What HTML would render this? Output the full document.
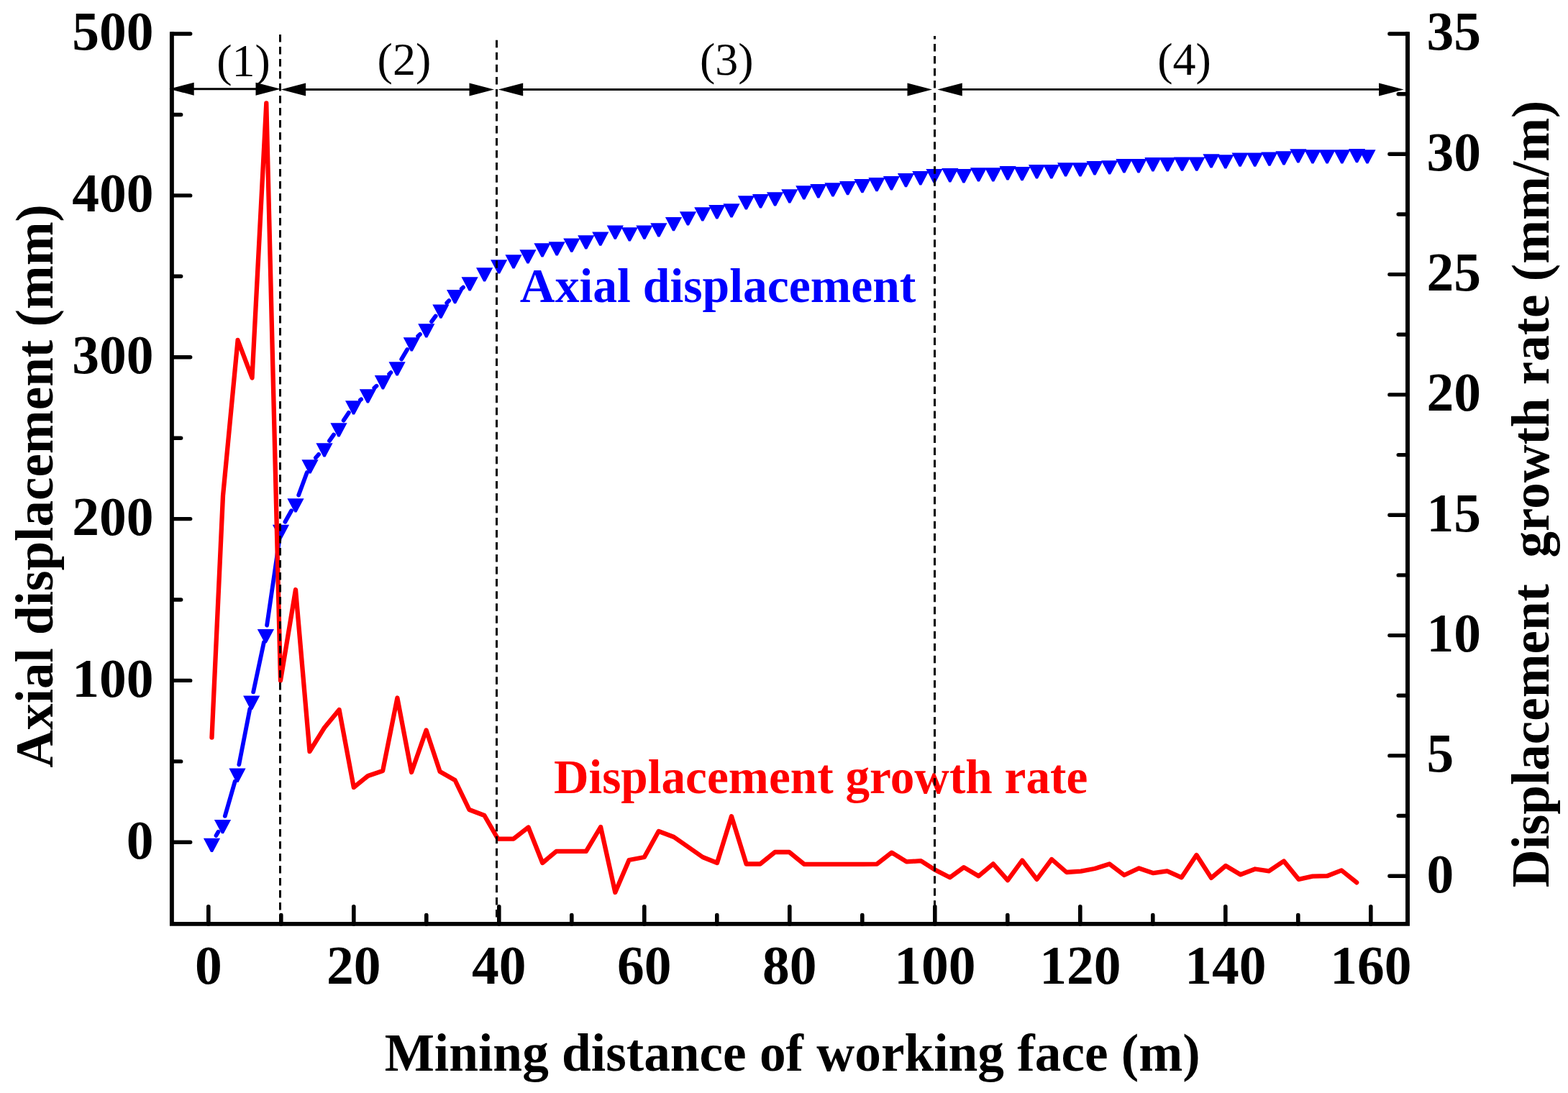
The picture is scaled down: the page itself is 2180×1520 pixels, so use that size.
<!DOCTYPE html>
<html><head><meta charset="utf-8"><title>Axial displacement chart</title>
<style>html,body{margin:0;padding:0;background:#fff;overflow:hidden;}svg{display:block;}</style>
</head><body>
<svg width="2180" height="1520" viewBox="0 0 2180 1520">
<rect x="0" y="0" width="2180" height="1520" fill="#fff"/>
<path d="M300.5,1161.9L303.5,1156.8M312.8,1134.9L326.7,1086.6M332.3,1063.3L347.4,985.9M352.2,962.4L366.9,893.2M371.1,869.6L388.8,748.1M396.4,725.7L405.1,710.3M415.2,688.5L426.8,657.1M438.9,636.7L443.1,631.9M458.0,613.0L464.0,604.5M477.7,584.7L484.9,573.8M500.9,556.2L502.1,555.3M520.3,539.6L523.5,536.7M541.1,520.3L543.4,518.1M558.2,499.5L566.2,486.0M581.1,467.6L584.0,464.9M600.0,447.2L605.7,439.6M621.2,421.3L624.3,418.1M641.7,401.6L644.0,399.6" stroke="#0000ff" stroke-width="5.8" stroke-linecap="round" fill="none"/>
<path d="M282.9,1165.8H306.1L295.9,1185.1H293.1ZM297.9,1139.9H321.1L310.9,1159.2H308.1ZM318.4,1068.6H341.6L331.4,1087.9H328.6ZM338.1,967.6H361.3L351.1,986.9H348.3ZM357.8,875.0H381.0L370.8,894.3H368.0ZM378.9,729.7H402.1L391.9,749.0H389.1ZM399.4,693.3H422.6L412.4,712.6H409.6ZM419.4,639.3H442.6L432.4,658.6H429.6ZM439.4,616.3H462.6L452.4,635.6H449.6ZM459.4,588.2H482.6L472.4,607.5H469.6ZM480.0,557.3H503.2L493.0,576.6H490.2ZM499.8,541.2H523.0L512.8,560.5H510.0ZM520.8,522.1H544.0L533.8,541.4H531.0ZM540.5,503.3H563.7L553.5,522.6H550.7ZM560.7,469.2H583.9L573.7,488.5H570.9ZM581.2,450.3H604.4L594.2,469.6H591.4ZM601.3,423.5H624.5L614.3,442.8H611.5ZM621.0,402.9H644.2L634.0,422.2H631.2ZM641.5,385.3H664.7L654.5,404.6H651.7ZM662.0,372.3H685.2L675.0,391.6H672.2ZM682.1,361.2H705.3L695.1,380.5H692.3ZM702.4,354.3H725.6L715.4,373.6H712.6ZM722.4,347.3H745.6L735.4,366.6H732.6ZM742.4,338.2H765.6L755.4,357.5H752.6ZM762.6,336.3H785.8L775.6,355.6H772.8ZM783.2,331.5H806.4L796.2,350.8H793.4ZM803.2,327.2H826.4L816.2,346.5H813.4ZM823.2,322.5H846.4L836.2,341.8H833.4ZM843.7,313.4H866.9L856.7,332.7H853.9ZM863.7,316.3H886.9L876.7,335.6H873.9ZM884.3,313.4H907.5L897.3,332.7H894.5ZM904.3,310.3H927.5L917.3,329.6H914.5ZM924.9,302.0H948.1L937.9,321.3H935.1ZM944.9,294.2H968.1L957.9,313.5H955.1ZM965.2,288.2H988.4L978.2,307.5H975.4ZM985.2,285.1H1008.4L998.2,304.4H995.4ZM1005.4,283.2H1028.6L1018.4,302.5H1015.6ZM1025.8,272.2H1049.0L1038.8,291.5H1036.0ZM1045.9,270.1H1069.1L1058.9,289.4H1056.1ZM1066.0,267.2H1089.2L1079.0,286.5H1076.2ZM1086.2,263.2H1109.4L1099.2,282.5H1096.4ZM1106.2,258.2H1129.4L1119.2,277.5H1116.4ZM1126.2,256.1H1149.4L1139.2,275.4H1136.4ZM1146.4,254.2H1169.6L1159.4,273.5H1156.6ZM1167.0,252.0H1190.2L1180.0,271.3H1177.2ZM1187.3,249.0H1210.5L1200.3,268.3H1197.5ZM1207.4,247.0H1230.6L1220.4,266.3H1217.6ZM1227.8,245.1H1251.0L1240.8,264.4H1238.0ZM1247.9,241.0H1271.1L1260.9,260.3H1258.1ZM1268.2,238.1H1291.4L1281.2,257.4H1278.4ZM1287.4,235.1H1310.6L1300.4,254.4H1297.6ZM1309.2,234.1H1332.4L1322.2,253.4H1319.4ZM1328.3,235.1H1351.5L1341.3,254.4H1338.5ZM1348.9,233.2H1372.1L1361.9,252.5H1359.1ZM1369.2,233.2H1392.4L1382.2,252.5H1379.4ZM1389.4,231.1H1412.6L1402.4,250.4H1399.6ZM1409.4,232.0H1432.6L1422.4,251.3H1419.6ZM1429.9,229.1H1453.1L1442.9,248.4H1440.1ZM1450.2,229.1H1473.4L1463.2,248.4H1460.4ZM1470.0,226.2H1493.2L1483.0,245.5H1480.2ZM1490.3,226.2H1513.5L1503.3,245.5H1500.5ZM1510.4,224.1H1533.6L1523.4,243.4H1520.6ZM1531.1,223.2H1554.3L1544.1,242.5H1541.3ZM1551.3,221.1H1574.5L1564.3,240.4H1561.5ZM1571.4,221.1H1594.6L1584.4,240.4H1581.6ZM1591.3,219.1H1614.5L1604.3,238.4H1601.5ZM1611.6,219.1H1634.8L1624.6,238.4H1621.8ZM1631.9,218.5H1655.1L1644.9,237.8H1642.1ZM1652.2,218.5H1675.4L1665.2,237.8H1662.4ZM1672.4,214.3H1695.6L1685.4,233.6H1682.6ZM1692.2,215.2H1715.4L1705.2,234.5H1702.4ZM1712.5,212.4H1735.7L1725.5,231.7H1722.7ZM1733.1,212.4H1756.3L1746.1,231.7H1743.3ZM1753.3,211.4H1776.5L1766.3,230.7H1763.5ZM1773.4,210.3H1796.6L1786.4,229.6H1783.6ZM1793.3,207.2H1816.5L1806.3,226.5H1803.5ZM1813.4,208.3H1836.6L1826.4,227.6H1823.6ZM1833.5,208.2H1856.7L1846.5,227.5H1843.7ZM1854.2,208.2H1877.4L1867.2,227.5H1864.4ZM1874.9,207.0H1898.1L1887.9,226.3H1885.1ZM1889.4,208.2H1912.6L1902.4,227.5H1899.6Z" fill="#0000ff"/>
<path d="M294.5,1025.5L310.0,689.5L330.6,473.0L350.5,525.5L370.3,143.5L390.0,946.5L411.0,820.0L430.5,1045.0L451.0,1012.0L471.6,987.0L491.8,1095.0L511.6,1079.0L532.1,1072.0L552.4,970.5L572.1,1074.0L592.6,1015.5L611.6,1073.0L632.6,1085.0L652.4,1126.0L673.4,1134.0L692.2,1166.5L714.0,1166.6L734.6,1150.5L754.2,1200.0L773.5,1183.8L793.2,1183.8L814.9,1183.8L835.1,1150.0L855.3,1241.0L874.6,1196.0L895.8,1192.0L915.7,1156.0L936.9,1164.0L957.0,1178.0L977.0,1192.0L997.0,1200.0L1017.0,1135.2L1037.6,1201.5L1056.9,1201.5L1077.4,1185.0L1097.3,1185.0L1117.9,1201.8L1138.0,1201.8L1158.0,1201.8L1178.6,1201.8L1199.0,1201.8L1219.3,1201.6L1239.8,1185.6L1260.4,1198.4L1280.3,1197.2L1299.5,1209.4L1320.7,1220.3L1340.0,1206.1L1360.5,1218.3L1380.8,1201.4L1401.0,1224.1L1421.2,1196.5L1441.5,1222.8L1462.2,1195.0L1482.8,1213.0L1502.7,1211.7L1521.9,1208.0L1542.5,1201.4L1563.0,1217.0L1583.6,1207.4L1603.5,1214.2L1622.7,1211.3L1642.7,1220.3L1663.5,1189.0L1684.0,1220.9L1704.1,1204.0L1724.6,1216.3L1745.0,1208.5L1764.2,1211.3L1784.9,1197.5L1805.5,1222.8L1824.8,1218.6L1845.0,1218.2L1865.1,1210.4L1886.2,1227.3" stroke="#ff0000" stroke-width="6.3" stroke-linejoin="round" stroke-linecap="round" fill="none"/>
<text x="722.8" y="419.5" style="font-family:'Liberation Serif','Times New Roman',serif;font-weight:bold;font-size:68px" fill="#0000ff" textLength="550.5" lengthAdjust="spacingAndGlyphs">Axial displacement</text>
<text x="769.9" y="1102.6" style="font-family:'Liberation Serif','Times New Roman',serif;font-weight:bold;font-size:68px" fill="#ff0000" textLength="742.5" lengthAdjust="spacingAndGlyphs">Displacement growth rate</text>
<line x1="389.5" y1="47.9" x2="389.5" y2="1284.9" stroke="#000" stroke-width="3" stroke-dasharray="10.5 6.500" stroke-dashoffset="0.000"/>
<line x1="690.5" y1="55.8" x2="690.5" y2="1284.9" stroke="#000" stroke-width="3" stroke-dasharray="10.5 6.530" stroke-dashoffset="0.000"/>
<line x1="1299.5" y1="50" x2="1299.5" y2="1284.9" stroke="#000" stroke-width="3" stroke-dasharray="10.5 6.517" stroke-dashoffset="6.017"/>
<line x1="255.2" y1="123.7" x2="370.0" y2="123.7" stroke="#000" stroke-width="2.9"/>
<line x1="410.6" y1="124.5" x2="667.0" y2="124.5" stroke="#000" stroke-width="2.9"/>
<line x1="712.7" y1="124.5" x2="1276.0" y2="124.5" stroke="#000" stroke-width="2.9"/>
<line x1="1323.3" y1="124.4" x2="1931.6" y2="124.4" stroke="#000" stroke-width="2.9"/>
<path d="M235.2,123.7L269.7,114.7L269.7,132.7ZM390.0,123.7L355.5,114.7L355.5,132.7ZM390.6,124.5L425.1,115.5L425.1,133.5ZM687.0,124.5L652.5,115.5L652.5,133.5ZM692.7,124.5L727.2,115.5L727.2,133.5ZM1296.0,124.5L1261.5,115.5L1261.5,133.5ZM1303.3,124.4L1337.8,115.4L1337.8,133.4ZM1951.6,124.4L1917.1,115.4L1917.1,133.4Z" fill="#000"/>
<text x="338.5" y="106.3" text-anchor="middle" style="font-family:'Liberation Serif','Times New Roman',serif;font-size:64px" fill="#000">(1)</text>
<text x="561.9" y="104" text-anchor="middle" style="font-family:'Liberation Serif','Times New Roman',serif;font-size:64px" fill="#000">(2)</text>
<text x="1010.2" y="104.2" text-anchor="middle" style="font-family:'Liberation Serif','Times New Roman',serif;font-size:64px" fill="#000">(3)</text>
<text x="1646.5" y="104.2" text-anchor="middle" style="font-family:'Liberation Serif','Times New Roman',serif;font-size:64px" fill="#000">(4)</text>
<path d="M238.9,44.2V1284.9H1957.0V44.2" stroke="#000" stroke-width="5.9" fill="none" stroke-linejoin="miter"/>
<path d="M238.9,1171.3H264.7M238.9,1058.9H251.7M238.9,946.4H264.7M238.9,834.0H251.7M238.9,721.6H264.7M238.9,609.2H251.7M238.9,496.8H264.7M238.9,384.3H251.7M238.9,271.9H264.7M238.9,159.5H251.7M238.9,47.0H264.7M1957.0,1218.2H1931.9M1957.0,1134.5H1944.2M1957.0,1050.9H1931.9M1957.0,967.2H1944.2M1957.0,883.6H1931.9M1957.0,799.9H1944.2M1957.0,716.3H1931.9M1957.0,632.6H1944.2M1957.0,548.9H1931.9M1957.0,465.3H1944.2M1957.0,381.6H1931.9M1957.0,298.0H1944.2M1957.0,214.3H1931.9M1957.0,130.7H1944.2M1957.0,47.0H1931.9" stroke="#000" stroke-width="5.4" stroke-linecap="round" fill="none"/>
<path d="M289.8,1284.9V1260.8M390.8,1284.9V1272.5M491.8,1284.9V1260.8M592.8,1284.9V1272.5M693.8,1284.9V1260.8M794.8,1284.9V1272.5M895.8,1284.9V1260.8M996.8,1284.9V1272.5M1097.8,1284.9V1260.8M1198.8,1284.9V1272.5M1299.8,1284.9V1260.8M1400.8,1284.9V1272.5M1501.8,1284.9V1260.8M1602.8,1284.9V1272.5M1703.8,1284.9V1260.8M1804.8,1284.9V1272.5M1905.8,1284.9V1260.8" stroke="#000" stroke-width="5.6" stroke-linecap="round" fill="none"/>
<text x="213.5" y="1193.6" text-anchor="end" style="font-family:'Liberation Serif','Times New Roman',serif;font-weight:bold;font-size:75.5px">0</text>
<text x="213.5" y="968.7" text-anchor="end" style="font-family:'Liberation Serif','Times New Roman',serif;font-weight:bold;font-size:75.5px">100</text>
<text x="213.5" y="743.9" text-anchor="end" style="font-family:'Liberation Serif','Times New Roman',serif;font-weight:bold;font-size:75.5px">200</text>
<text x="213.5" y="519.0" text-anchor="end" style="font-family:'Liberation Serif','Times New Roman',serif;font-weight:bold;font-size:75.5px">300</text>
<text x="213.5" y="294.2" text-anchor="end" style="font-family:'Liberation Serif','Times New Roman',serif;font-weight:bold;font-size:75.5px">400</text>
<text x="213.5" y="69.3" text-anchor="end" style="font-family:'Liberation Serif','Times New Roman',serif;font-weight:bold;font-size:75.5px">500</text>
<text x="1983.5" y="1240.5" style="font-family:'Liberation Serif','Times New Roman',serif;font-weight:bold;font-size:75.5px">0</text>
<text x="1983.5" y="1073.2" style="font-family:'Liberation Serif','Times New Roman',serif;font-weight:bold;font-size:75.5px">5</text>
<text x="1983.5" y="905.9" style="font-family:'Liberation Serif','Times New Roman',serif;font-weight:bold;font-size:75.5px">10</text>
<text x="1983.5" y="738.6" style="font-family:'Liberation Serif','Times New Roman',serif;font-weight:bold;font-size:75.5px">15</text>
<text x="1983.5" y="571.2" style="font-family:'Liberation Serif','Times New Roman',serif;font-weight:bold;font-size:75.5px">20</text>
<text x="1983.5" y="403.9" style="font-family:'Liberation Serif','Times New Roman',serif;font-weight:bold;font-size:75.5px">25</text>
<text x="1983.5" y="236.6" style="font-family:'Liberation Serif','Times New Roman',serif;font-weight:bold;font-size:75.5px">30</text>
<text x="1983.5" y="69.3" style="font-family:'Liberation Serif','Times New Roman',serif;font-weight:bold;font-size:75.5px">35</text>
<text x="289.8" y="1367.6" text-anchor="middle" style="font-family:'Liberation Serif','Times New Roman',serif;font-weight:bold;font-size:75.5px">0</text>
<text x="491.8" y="1367.6" text-anchor="middle" style="font-family:'Liberation Serif','Times New Roman',serif;font-weight:bold;font-size:75.5px">20</text>
<text x="693.8" y="1367.6" text-anchor="middle" style="font-family:'Liberation Serif','Times New Roman',serif;font-weight:bold;font-size:75.5px">40</text>
<text x="895.8" y="1367.6" text-anchor="middle" style="font-family:'Liberation Serif','Times New Roman',serif;font-weight:bold;font-size:75.5px">60</text>
<text x="1097.8" y="1367.6" text-anchor="middle" style="font-family:'Liberation Serif','Times New Roman',serif;font-weight:bold;font-size:75.5px">80</text>
<text x="1299.8" y="1367.6" text-anchor="middle" style="font-family:'Liberation Serif','Times New Roman',serif;font-weight:bold;font-size:75.5px">100</text>
<text x="1501.8" y="1367.6" text-anchor="middle" style="font-family:'Liberation Serif','Times New Roman',serif;font-weight:bold;font-size:75.5px">120</text>
<text x="1703.8" y="1367.6" text-anchor="middle" style="font-family:'Liberation Serif','Times New Roman',serif;font-weight:bold;font-size:75.5px">140</text>
<text x="1905.8" y="1367.6" text-anchor="middle" style="font-family:'Liberation Serif','Times New Roman',serif;font-weight:bold;font-size:75.5px">160</text>
<text x="534.7" y="1489" style="font-family:'Liberation Serif','Times New Roman',serif;font-weight:bold;font-size:73.3px">Mining distance of working face (m)</text>
<text transform="translate(73,1067.7) rotate(-90)" x="0" y="0" style="font-family:'Liberation Serif','Times New Roman',serif;font-weight:bold;font-size:73.1px">Axial displacement (mm)</text>
<text transform="translate(2152.6,1234.3) rotate(-90)" x="0" y="0" style="font-family:'Liberation Serif','Times New Roman',serif;font-weight:bold;font-size:73.1px;white-space:pre" xml:space="preserve">Displacement  growth rate (mm/m)</text>
</svg>
</body></html>
